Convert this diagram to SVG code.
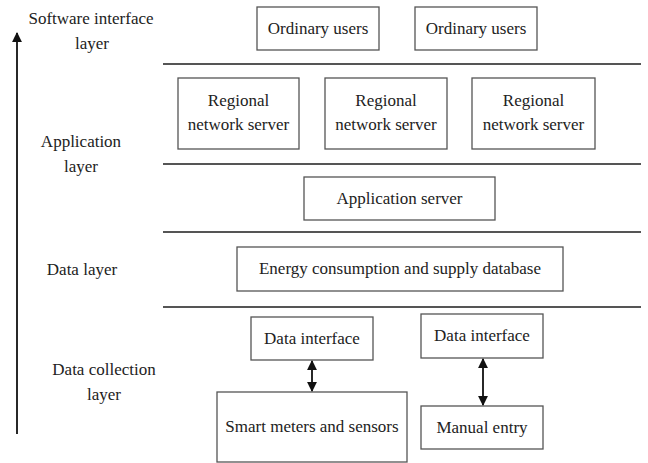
<svg xmlns="http://www.w3.org/2000/svg" width="648" height="463" viewBox="0 0 648 463">
<style>
text{font-family:"Liberation Serif","Times New Roman",serif;font-size:17px;fill:#222;text-anchor:middle}
.box{fill:#fff;stroke:#555;stroke-width:1.3}
.sep{stroke:#555;stroke-width:2}
.con{stroke:#111;stroke-width:1.8;fill:none}
</style>
<defs>
<marker id="ah" viewBox="0 0 10 10" refX="9" refY="5" markerWidth="5.5" markerHeight="5.5" orient="auto-start-reverse">
<path d="M0,0 L10,5 L0,10 z" fill="#111"/>
</marker>
</defs>
<rect width="648" height="463" fill="#fff"/>
<g id="layer-labels">
<text x="91" y="24">Software interface</text>
<text x="92" y="49">layer</text>
<text x="81" y="147">Application</text>
<text x="81" y="172">layer</text>
<text x="82" y="275">Data layer</text>
<text x="104" y="375">Data collection</text>
<text x="104" y="400">layer</text>
</g>
<g id="separators">
<line class="sep" x1="163" y1="64" x2="641" y2="64"/>
<line class="sep" x1="163" y1="164" x2="641" y2="164"/>
<line class="sep" x1="163" y1="232" x2="641" y2="232"/>
<line class="sep" x1="163" y1="307" x2="641" y2="307"/>
</g>
<g id="user1"><rect class="box" x="257" y="7" width="122" height="43"/><text x="318" y="34">Ordinary users</text></g>
<g id="user2"><rect class="box" x="415" y="7" width="122" height="43"/><text x="476" y="34">Ordinary users</text></g>
<g id="regional1"><rect class="box" x="178" y="78" width="121" height="71"/><text x="238.5" y="106">Regional</text><text x="238.5" y="130">network server</text></g>
<g id="regional2"><rect class="box" x="325" y="78" width="122" height="71"/><text x="386" y="106">Regional</text><text x="386" y="130">network server</text></g>
<g id="regional3"><rect class="box" x="472" y="78" width="123" height="71"/><text x="533.5" y="106">Regional</text><text x="533.5" y="130">network server</text></g>
<g id="appserver"><rect class="box" x="304" y="177" width="191" height="43"/><text x="399.5" y="204">Application server</text></g>
<g id="database"><rect class="box" x="237" y="247" width="326" height="44"/><text x="400" y="274">Energy consumption and supply database</text></g>
<g id="datainterface1"><rect class="box" x="251" y="317" width="122" height="43"/><text x="312" y="344">Data interface</text></g>
<g id="datainterface2"><rect class="box" x="421" y="314" width="122" height="44"/><text x="482" y="341">Data interface</text></g>
<g id="smartmeters"><rect class="box" x="217" y="392" width="190" height="70"/><text x="312" y="432">Smart meters and sensors</text></g>
<g id="manualentry"><rect class="box" x="421" y="406" width="122" height="43"/><text x="482" y="433">Manual entry</text></g>
<g id="connectors">
<line class="con" x1="17" y1="434" x2="17" y2="33" marker-end="url(#ah)"/>
<line class="con" x1="312" y1="361" x2="312" y2="391" marker-start="url(#ah)" marker-end="url(#ah)"/>
<line class="con" x1="483" y1="359" x2="483" y2="405" marker-start="url(#ah)" marker-end="url(#ah)"/>
</g>
</svg>
